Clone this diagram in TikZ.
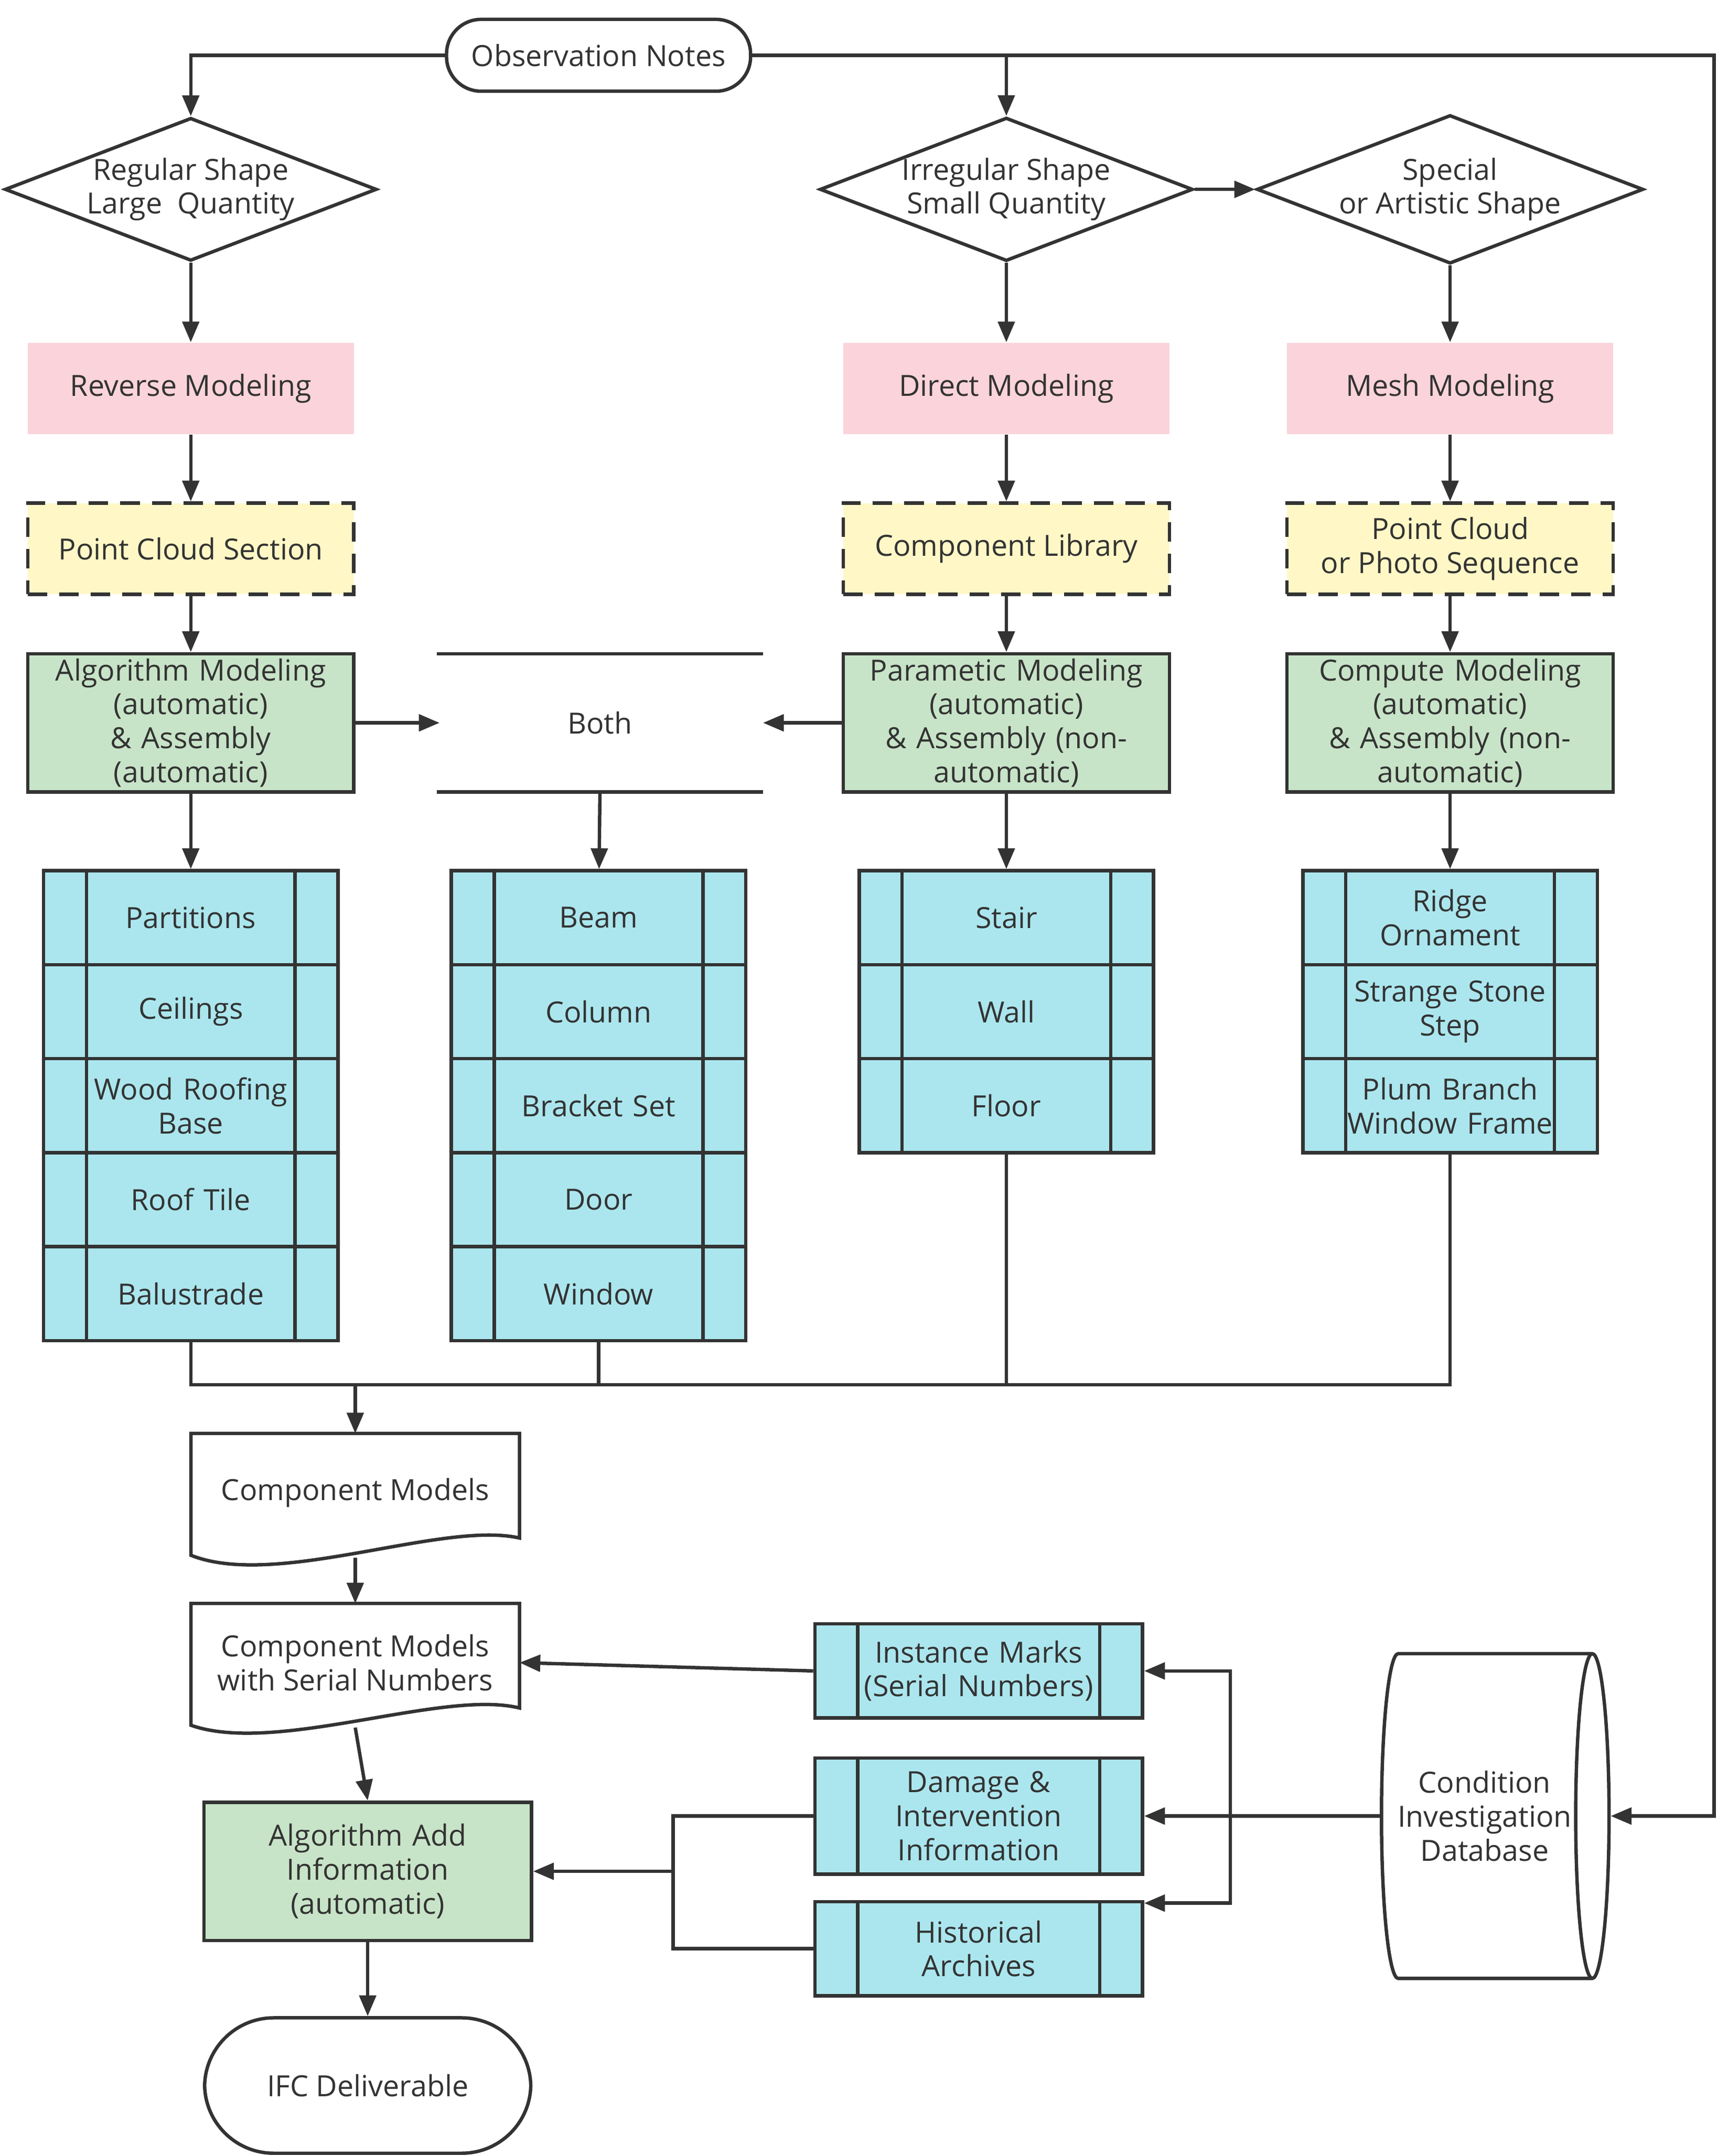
\documentclass[tikz,border=0pt]{standalone}
\usepackage{fontspec}
\setmainfont{Open Sans}
\usetikzlibrary{shapes.geometric,arrows.meta}
\definecolor{pinkbox}{HTML}{FAD4DA}
\definecolor{yellowbox}{HTML}{FFF8C6}
\definecolor{greenbox}{HTML}{C8E4C8}
\definecolor{cyanbox}{HTML}{ABE6EE}
\definecolor{linec}{HTML}{333333}
\tikzset{
  >={Triangle[width=2.4mm,length=3mm]},
  every node/.style={font=\fontsize{12}{14}\selectfont, text=linec, align=center, inner sep=1pt},
  conn/.style={draw=linec, line width=1.4pt},
  base/.style={draw=linec, line width=1.4pt, minimum width=4.72cm},
  pinkb/.style={rectangle, fill=pinkbox, minimum width=4.72cm, minimum height=1.32cm},
  yell/.style={base, fill=yellowbox, dashed, dash pattern=on 8pt off 5pt, minimum height=1.32cm},
  gren/.style={base, fill=greenbox, minimum height=2cm, text width=4.5cm},
  dia/.style={diamond, draw=linec, line width=1.4pt, aspect=2.6, minimum width=5.2cm, minimum height=2cm, inner sep=0pt},
  cell/.style={rectangle, draw=linec, line width=1.4pt, fill=cyanbox, minimum width=4.26cm, minimum height=1.36cm, text width=3.2cm,
    path picture={\draw[linec, line width=1.4pt]
      ([xshift=0.62cm]path picture bounding box.north west) -- ([xshift=0.62cm]path picture bounding box.south west)
      ([xshift=-0.62cm]path picture bounding box.north east) -- ([xshift=-0.62cm]path picture bounding box.south east);}},
  side/.style={cell, minimum width=4.74cm, text width=3.4cm},
}
\begin{document}
\begin{tikzpicture}[x=0.02cm, y=-0.02cm]
\useasboundingbox (0,0) rectangle (1250,1560);

% top
\node (obs) [base, rounded corners=0.5cm, minimum width=4.4cm, minimum height=1.04cm] at (433,40) {Observation Notes};
\node (d1) [dia] at (138,137) {Regular Shape\\Large\ \ Quantity};
\node (d2) [dia] at (728,137) {Irregular Shape\\Small Quantity};
\node (d3) [dia] at (1049,137) {Special\\or Artistic Shape};

\node (p1) [pinkb] at (138,281) {Reverse Modeling};
\node (p2) [pinkb] at (728,281) {Direct Modeling};
\node (p3) [pinkb] at (1049,281) {Mesh Modeling};

\node (y1) [yell] at (138,397) {Point Cloud Section};
\node (y2) [yell] at (728,397) {Component Library};
\node (y3) [yell] at (1049,397) {Point Cloud\\or Photo Sequence};

\node (g1) [gren] at (138,523) {Algorithm Modeling\\(automatic)\\\& Assembly\\(automatic)};
\node (g2) [gren] at (728,523) {Parametic Modeling\\(automatic)\\\& Assembly (non-\\automatic)};
\node (g3) [gren] at (1049,523) {Compute Modeling\\(automatic)\\\& Assembly (non-\\automatic)};

\node (both) [minimum width=4.72cm, minimum height=2cm] at (434,523) {Both};
\draw[conn] (316,473) -- (552,473) (316,573) -- (552,573);

% columns
\node (a1) [cell] at (138,664) {Partitions};
\node (a2) [cell] at (138,732) {Ceilings};
\node (a3) [cell] at (138,800) {Wood Roofing\\Base};
\node (a4) [cell] at (138,868) {Roof Tile};
\node (a5) [cell] at (138,936) {Balustrade};

\node (b1) [cell] at (433,664) {Beam};
\node (b2) [cell] at (433,732) {Column};
\node (b3) [cell] at (433,800) {Bracket Set};
\node (b4) [cell] at (433,868) {Door};
\node (b5) [cell] at (433,936) {Window};

\node (c1) [cell] at (728,664) {Stair};
\node (c2) [cell] at (728,732) {Wall};
\node (c3) [cell] at (728,800) {Floor};

\node (e1) [cell] at (1049,664) {Ridge\\Ornament};
\node (e2) [cell] at (1049,732) {Strange Stone\\Step};
\node (e3) [cell] at (1049,800) {Plum Branch\\Window Frame};

% bottom
\node (cm) [minimum width=4.74cm, minimum height=1.7cm] at (257,1080) {Component Models};
\draw[conn] (cm.south east) ++(0,-10) -- (cm.north east) -- (cm.north west) -- ([yshift=-0.05cm]cm.south west)
  .. controls (200,1150) and (320,1100) .. ([yshift=0.2cm]cm.south east) -- cycle;
\node (cs) [minimum width=4.74cm, minimum height=1.7cm] at (257,1203) {Component Models\\with Serial Numbers};
\draw[conn] (cs.north east) -- (cs.north west) -- ([yshift=-0.05cm]cs.south west)
  .. controls (200,1270) and (320,1222) .. ([yshift=0.2cm]cs.south east) -- cycle;

\node (g4) [gren, minimum width=4.74cm] at (266,1354) {Algorithm Add\\Information\\(automatic)};
\node (ifc) [base, rounded corners=1cm, minimum height=1.96cm] at (266,1509) {IFC Deliverable};

\node (im) [side] at (708,1209) {Instance Marks\\(Serial Numbers)};
\node (dm) [side, minimum height=1.68cm] at (708,1314) {Damage \&\\Intervention\\Information};
\node (ha) [side] at (708,1410) {Historical\\Archives};
\node (db) [cylinder, draw=linec, line width=1.4pt, minimum width=4.7cm, minimum height=1.96cm, aspect=0.35, shape border rotate=0] at (1074,1314) {Condition\\Investigation\\Database};

% connectors
\draw[conn,->] (obs.west) -| (d1.north);
\draw[conn,->] (obs.east) -| (d2.north);
\draw[conn,->] (obs.east) -- (1240,40) |- (db.east);
\draw[conn,->] (d2.east) -- (d3.west);
\draw[conn,->] (d1) -- (p1);
\draw[conn,->] (d2) -- (p2);
\draw[conn,->] (d3) -- (p3);
\draw[conn,->] (p1) -- (y1);
\draw[conn,->] (p2) -- (y2);
\draw[conn,->] (p3) -- (y3);
\draw[conn,->] (y1) -- (g1);
\draw[conn,->] (y2) -- (g2);
\draw[conn,->] (y3) -- (g3);
\draw[conn,->] (g1.east) -- (318,523);
\draw[conn,->] (g2.west) -- (552,523);
\draw[conn,->] (g1) -- (a1);
\draw[conn,->] (434,573) -- (b1);
\draw[conn,->] (g2) -- (c1);
\draw[conn,->] (g3) -- (e1);
\draw[conn] (a5.south) |- (1049,1002) -- (e3.south);
\draw[conn] (b5.south) -- (433,1002);
\draw[conn] (c3.south) -- (728,1002);
\draw[conn,->] (257,1002) -- (cm.north);
\draw[conn,->] (257,1127) -- (cs.north);
\draw[conn,->] (257,1250) -- (g4.north);
\draw[conn,->] (g4) -- (ifc);
\draw[conn,->] (im.west) -- (cs.east);
\draw[conn] (dm.west) -- (487,1314) -- (487,1410) -- (ha.west);
\draw[conn,->] (487,1354) -- (g4.east);
\draw[conn,->] (db.west) -- (dm.east);
\draw[conn,->] (890,1314) |- (im.east);
\draw[conn,->] (890,1314) |- (ha.east |- 0,1377);
\end{tikzpicture}
\end{document}
